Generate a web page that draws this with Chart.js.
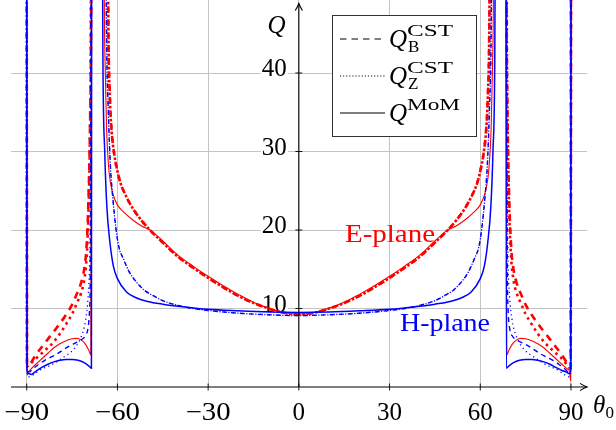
<!DOCTYPE html>
<html><head><meta charset="utf-8">
<script src="https://cdn.jsdelivr.net/npm/chart.js@4/dist/chart.umd.min.js"></script>
<style>html,body{margin:0;padding:0;background:#fff;}canvas{display:block;}</style>
</head><body>
<canvas id="c" width="616" height="430"></canvas>
<script>
// ---- tick values / labels ----
const xTicks = [-90, -60, -30, 0, 30, 60, 90];
const xTickLabels = ['\u221290', '\u221260', '\u221230', '0', '30', '60', '90'];
const yTicks = [10, 20, 30, 40];
const yTickLabels = ['10', '20', '30', '40'];

// ---- series: [theta0, Q] ; Q > 49.3 lies above the plot (asymptotes), null separates branches ----
// E-plane, Q_B^CST (red dashed)
const ePlaneB = [[-90.05,80],[-89.9,2.8],[-89,2.9],[-87,4.1],[-85,5.1],[-83,6.1],[-81,7.1],[-79,8.1],[-77,9.2],[-75,10.5],[-73.5,11.8],[-72,13.3],[-71,15],[-70.2,18],[-69.5,25],[-69,35],[-68.7,48],[-68.5,80],[-66,null],
 [-63.5,80],[-63,46],[-62.5,37],[-62,33],[-61,29.5],[-60,27.5],[-59,26],[-57,24.2],[-55,22.8],[-52,21.2],[-49,19.9],[-45,18.4],[-40,16.6],[-35,15.2],[-30,13.9],[-25,12.7],[-20,11.6],[-15,10.7],[-10,10],[-5,9.45],[0,9.25],
 [5,9.45],[10,10],[15,10.7],[20,11.6],[25,12.7],[30,13.9],[35,15.2],[40,16.6],[45,18.4],[49,19.9],[52,21.2],[55,22.8],[57,24.2],[59,26],[60,27.5],[61,29.5],[62,33],[62.5,37],[63,46],[63.5,80],[66,null],
 [68.5,80],[68.7,48],[69,35],[69.5,25],[70.2,18],[71,15],[72,13.3],[73.5,11.8],[75,10.5],[77,9.2],[79,8.1],[81,7.1],[83,6.1],[85,5.1],[87,4.1],[89,2.9],[89.9,2.5],[90.05,80]];
// E-plane, Q_Z^CST (red dotted)
const ePlaneZ = [[-90.05,80],[-89.9,2.6],[-89,2.9],[-87,3.6],[-85,4.3],[-83,5.0],[-81,5.8],[-79,6.8],[-77,8.0],[-75,9.3],[-73.5,10.6],[-72,12.0],[-71,13.6],[-70.2,16.5],[-69.6,22],[-69.1,32],[-68.8,45],[-68.6,80],[-66,null],
 [-63.5,80],[-63,46],[-62.5,37],[-62,33],[-61,29.5],[-60,27.5],[-59,26],[-57,24.2],[-55,22.8],[-52,21.2],[-49,19.9],[-45,18.4],[-40,16.6],[-35,15.2],[-30,13.9],[-25,12.7],[-20,11.6],[-15,10.7],[-10,10],[-5,9.45],[0,9.25],
 [5,9.45],[10,10],[15,10.7],[20,11.6],[25,12.7],[30,13.9],[35,15.2],[40,16.6],[45,18.4],[49,19.9],[52,21.2],[55,22.8],[57,24.2],[59,26],[60,27.5],[61,29.5],[62,33],[62.5,37],[63,46],[63.5,80],[66,null],
 [68.6,80],[68.8,45],[69.1,32],[69.6,22],[70.2,16.5],[71,13.6],[72,12.0],[73.5,10.6],[75,9.3],[77,8.0],[79,6.8],[81,5.8],[83,5.0],[85,4.3],[87,3.6],[89,2.7],[89.9,2.3],[90.05,80]];
// E-plane, Q^MoM (red solid)
const ePlaneM = [[-90,80],[-89.9,1.5],[-89.5,1.9],[-88.8,2.2],[-87,2.9],[-85,3.6],[-83,4.3],[-81,5.0],[-79,5.5],[-77,5.9],[-75,6.15],[-73.5,6.2],[-72,6.0],[-70.5,5.4],[-69.5,4.7],[-68.8,4.1],[-68.5,80],[-66.5,null],
 [-64.8,80],[-64.3,47],[-64,40],[-63.6,33],[-63,28.5],[-62.5,26.5],[-61.5,24.6],[-60,23.2],[-58,22.3],[-55,21.3],[-52,20.5],[-49,19.95],[-45,18.6],[-40,16.8],[-35,15.4],[-30,14.1],[-25,12.9],[-20,11.8],[-15,10.8],[-10,10.05],[-5,9.5],[0,9.3],
 [5,9.5],[10,10.05],[15,10.8],[20,11.8],[25,12.9],[30,14.1],[35,15.4],[40,16.8],[45,18.6],[49,19.95],[52,20.5],[55,21.3],[58,22.3],[60,23.2],[61.5,24.6],[62.5,26.5],[63,28.5],[63.6,33],[64,40],[64.3,47],[64.8,80],[66.5,null],
 [68.5,80],[68.8,4.1],[69.5,4.7],[70.5,5.4],[72,6.0],[73.5,6.2],[75,6.15],[77,5.9],[79,5.5],[81,5.0],[83,4.3],[85,3.6],[87,2.9],[88.8,2.3],[89.5,2.0],[89.9,0.8],[90,80]];
// H-plane, Q_B^CST (blue dashed)
const hPlaneB = [[-90.05,80],[-89.9,2.3],[-89.2,1.9],[-88,2.3],[-86,2.9],[-84,3.4],[-82,3.8],[-80,4.2],[-78,4.7],[-76,5.2],[-74,5.6],[-72,6.0],[-70.6,6.5],[-69.8,7.3],[-69.2,10],[-68.9,20],[-68.7,80],[-66.5,null],
 [-64.2,80],[-63.6,45],[-63,35],[-62.3,28],[-61.5,24],[-60.5,20.2],[-59.5,17.8],[-58,16.3],[-56,14.6],[-54,13.5],[-51,12.3],[-48,11.6],[-45,11.0],[-40,10.4],[-35,10.0],[-30,9.75],[-20,9.4],[-10,9.2],[0,9.1],
 [10,9.2],[20,9.4],[30,9.75],[35,10.0],[40,10.4],[45,11.0],[48,11.6],[51,12.3],[54,13.5],[56,14.6],[58,16.3],[59.5,17.8],[60.5,20.2],[61.5,24],[62.3,28],[63,35],[63.6,45],[64.2,80],[66.5,null],
 [68.7,80],[68.9,20],[69.2,10],[69.8,7.3],[70.6,6.5],[72,6.0],[74,5.6],[76,5.2],[78,4.7],[80,4.2],[82,3.8],[84,3.4],[86,2.9],[88,2.3],[89.2,1.9],[89.9,2.3],[90.05,80]];
// H-plane, Q_Z^CST (blue dotted)
const hPlaneZ = [[-90.05,80],[-89.9,1.5],[-89.2,1.3],[-87,1.8],[-85,2.3],[-83,2.6],[-81,3.0],[-79,3.5],[-77,4.0],[-75,4.6],[-73,5.6],[-71.5,6.9],[-70.5,8.6],[-69.7,11.5],[-69.2,16],[-68.9,25],[-68.7,40],[-68.6,80],[-66.5,null],
 [-64.2,80],[-63.6,45],[-63,35],[-62.3,28],[-61.5,24],[-60.5,20.2],[-59.5,17.8],[-58,16.3],[-56,14.6],[-54,13.5],[-51,12.3],[-48,11.6],[-45,11.0],[-40,10.4],[-35,10.0],[-30,9.75],[-20,9.4],[-10,9.2],[0,9.1],
 [10,9.2],[20,9.4],[30,9.75],[35,10.0],[40,10.4],[45,11.0],[48,11.6],[51,12.3],[54,13.5],[56,14.6],[58,16.3],[59.5,17.8],[60.5,20.2],[61.5,24],[62.3,28],[63,35],[63.6,45],[64.2,80],[66.5,null],
 [68.6,80],[68.7,40],[68.9,25],[69.2,16],[69.7,11.5],[70.5,8.6],[71.5,6.9],[73,5.6],[75,4.6],[77,4.0],[79,3.5],[81,3.0],[83,2.6],[85,2.3],[87,1.8],[89.2,1.3],[89.9,1.5],[90.05,80]];
// H-plane, Q^MoM (blue solid)
const hPlaneM = [[-90.05,80],[-89.9,2.1],[-89.3,1.7],[-88.5,1.6],[-87,2.0],[-85,2.5],[-83,2.9],[-81,3.2],[-79,3.4],[-77,3.5],[-75,3.5],[-73,3.4],[-71,3.1],[-69.5,2.7],[-68.6,2.4],[-68.5,80],[-67,null],
 [-65.2,80],[-64.8,42],[-64.2,30],[-63.5,23],[-62.5,18.5],[-61.4,15.5],[-60,13.8],[-57,12.1],[-54,11.4],[-50,10.9],[-45,10.55],[-40,10.3],[-30,9.9],[-20,9.7],[-10,9.55],[0,9.5],
 [10,9.55],[20,9.7],[30,9.9],[40,10.3],[45,10.55],[50,10.9],[54,11.4],[57,12.1],[60,13.8],[61.4,15.5],[62.5,18.5],[63.5,23],[64.2,30],[64.8,42],[65.2,80],[67,null],
 [68.5,80],[68.6,2.4],[69.5,2.7],[71,3.1],[73,3.4],[75,3.5],[77,3.5],[79,3.4],[81,3.2],[83,2.9],[85,2.5],[87,2.1],[88.5,1.9],[89.5,1.7],[89.9,2.1],[90.05,80]];

const SERIF = '"Liberation Serif", "Times New Roman", serif';
const RED = '#ff0000', BLUE = '#0000ff';

function series(pts, color, width, dash, dashOffset, order) {
  return {
    data: pts.map(p => ({x: p[0], y: p[1]})),
    borderColor: color, backgroundColor: color, borderWidth: width,
    borderDash: dash, borderDashOffset: dashOffset,
    showLine: true, spanGaps: false, pointRadius: 0, pointHoverRadius: 0, fill: false,
    cubicInterpolationMode: 'monotone', borderCapStyle: 'butt', order: order
  };
}

function fitText(ctx, txt, x, y, targetW, align) {
  const w = ctx.measureText(txt).width;
  const s = targetW ? targetW / w : 1;
  ctx.save();
  let left = x;
  if (align === 'center') left = x - w * s / 2;
  else if (align === 'right') left = x - w * s;
  ctx.translate(left, y);
  ctx.scale(s, 1);
  ctx.textAlign = 'left';
  ctx.fillText(txt, 0, 0);
  ctx.restore();
}

function arrowHead(ctx, tx, ty, dx, dy) {
  const L = 7, W = 3.6;
  const px = -dy, py = dx;
  ctx.beginPath();
  ctx.moveTo(tx - dx * L + px * W, ty - dy * L + py * W);
  ctx.quadraticCurveTo(tx - dx * 2.5 + px * 0.8, ty - dy * 2.5 + py * 0.8, tx, ty);
  ctx.quadraticCurveTo(tx - dx * 2.5 - px * 0.8, ty - dy * 2.5 - py * 0.8, tx - dx * L - px * W, ty - dy * L - py * W);
  ctx.stroke();
}

const decor = {
  id: 'decor',
  beforeDatasetsDraw(chart) {
    const {ctx, scales: {x, y}} = chart;
    const x0 = x.getPixelForValue(0);
    ctx.save();
    ctx.font = '25px ' + SERIF;
    ctx.textBaseline = 'alphabetic';
    yTicks.forEach((v, i) => {
      const py = y.getPixelForValue(v);
      const w = ctx.measureText(yTickLabels[i]).width;
      ctx.fillStyle = '#fff';
      ctx.fillRect(x0 - 12 - w - 1, py - 17, w + 2, 19);
      ctx.fillStyle = '#000';
      fitText(ctx, yTickLabels[i], x0 - 12, py + 3, null, 'right');
    });
    ctx.restore();
  },
  afterDatasetsDraw(chart) {
    const {ctx, chartArea: ca, scales: {x, y}} = chart;
    const x0 = x.getPixelForValue(0);
    const y0 = y.getPixelForValue(0);
    ctx.save();
    ctx.strokeStyle = '#000';
    ctx.fillStyle = '#000';
    ctx.lineWidth = 1.1;
    ctx.setLineDash([]);
    ctx.beginPath(); ctx.moveTo(ca.left, y0); ctx.lineTo(ca.right, y0); ctx.stroke();
    arrowHead(ctx, ca.right, y0, 1, 0);
    ctx.beginPath(); ctx.moveTo(x0, y0); ctx.lineTo(x0, 3.5); ctx.stroke();
    arrowHead(ctx, x0, 3.5, 0, -1);
    ctx.lineWidth = 0.9;
    xTicks.forEach(v => {
      const px = x.getPixelForValue(v);
      ctx.beginPath(); ctx.moveTo(px, y0 - 3.5); ctx.lineTo(px, y0 + 3.5); ctx.stroke();
    });
    yTicks.forEach(v => {
      const py = y.getPixelForValue(v);
      ctx.beginPath(); ctx.moveTo(x0 - 3.5, py); ctx.lineTo(x0 + 3.5, py); ctx.stroke();
    });
    ctx.font = '25px ' + SERIF;
    ctx.textBaseline = 'alphabetic';
    xTicks.forEach((v, i) => {
      const px = x.getPixelForValue(v);
      const neg = xTickLabels[i].charAt(0) === '\u2212';
      fitText(ctx, xTickLabels[i], px, 419.5, neg ? 45 : null, 'center');
    });
    ctx.font = 'italic 25px ' + SERIF;
    fitText(ctx, 'Q', 285.5, 33, null, 'right');
    fitText(ctx, '\u03b8', 593, 413, null, 'left');
    ctx.font = '17px ' + SERIF;
    fitText(ctx, '0', 605.5, 418, null, 'left');
    ctx.font = '25px ' + SERIF;
    ctx.fillStyle = RED;
    fitText(ctx, 'E-plane', 345, 242, 90, 'left');
    ctx.fillStyle = BLUE;
    fitText(ctx, 'H-plane', 400, 331, 90, 'left');
    // legend
    ctx.fillStyle = '#fff';
    ctx.fillRect(332, 15, 144, 121);
    ctx.strokeStyle = '#333';
    ctx.lineWidth = 1;
    ctx.strokeRect(332.5, 15.5, 144, 121);
    ctx.strokeStyle = '#000';
    const rows = [
      {yy: 39, dash: [6.5, 5], sup: 'CST', sub: 'B', supW: 46},
      {yy: 76, dash: [1.1, 2], sup: 'CST', sub: 'Z', supW: 46},
      {yy: 113, dash: [], sup: 'MoM', sub: '', supW: 53}
    ];
    rows.forEach(r => {
      ctx.lineWidth = 1.1;
      ctx.setLineDash(r.dash);
      ctx.beginPath(); ctx.moveTo(340, r.yy); ctx.lineTo(385, r.yy); ctx.stroke();
      ctx.setLineDash([]);
      ctx.fillStyle = '#000';
      ctx.font = 'italic 25px ' + SERIF;
      fitText(ctx, 'Q', 389, r.yy + 8, null, 'left');
      ctx.font = '17px ' + SERIF;
      fitText(ctx, r.sup, 407, r.yy - 3, r.supW, 'left');
      if (r.sub) fitText(ctx, r.sub, 408, r.yy + 13, null, 'left');
    });
    ctx.restore();
  }
};

new Chart(document.getElementById('c').getContext('2d'), {
  type: 'scatter',
  data: {
    datasets: [
      series(ePlaneB, RED, 2.6, [7, 6], 0, 6),
      series(ePlaneZ, RED, 2.6, [2.6, 3.9], 4.3, 5),
      series(ePlaneM, RED, 1.1, [], 0, 4),
      series(hPlaneB, BLUE, 1.4, [5, 4], 0, 3),
      series(hPlaneZ, BLUE, 1.3, [1.2, 3.3], 2.6, 2),
      series(hPlaneM, BLUE, 1.5, [], 0, 1)
    ]
  },
  options: {
    responsive: false,
    animation: false,
    devicePixelRatio: 1,
    events: [],
    layout: {padding: {left: 11, right: 29, top: 0, bottom: 43}},
    plugins: {legend: {display: false}, tooltip: {enabled: false}},
    scales: {
      x: {
        type: 'linear', min: -95.2, max: 95.3,
        afterBuildTicks: s => { s.ticks = xTicks.map(v => ({value: v})); },
        ticks: {display: false},
        grid: {color: '#c4c4c4', lineWidth: 1, drawTicks: false},
        border: {display: false}
      },
      y: {
        type: 'linear', min: 0, max: 49.3,
        afterBuildTicks: s => { s.ticks = yTicks.map(v => ({value: v})); },
        ticks: {display: false},
        grid: {color: '#c4c4c4', lineWidth: 1, drawTicks: false},
        border: {display: false}
      }
    }
  },
  plugins: [decor]
});
</script>
</body></html>
